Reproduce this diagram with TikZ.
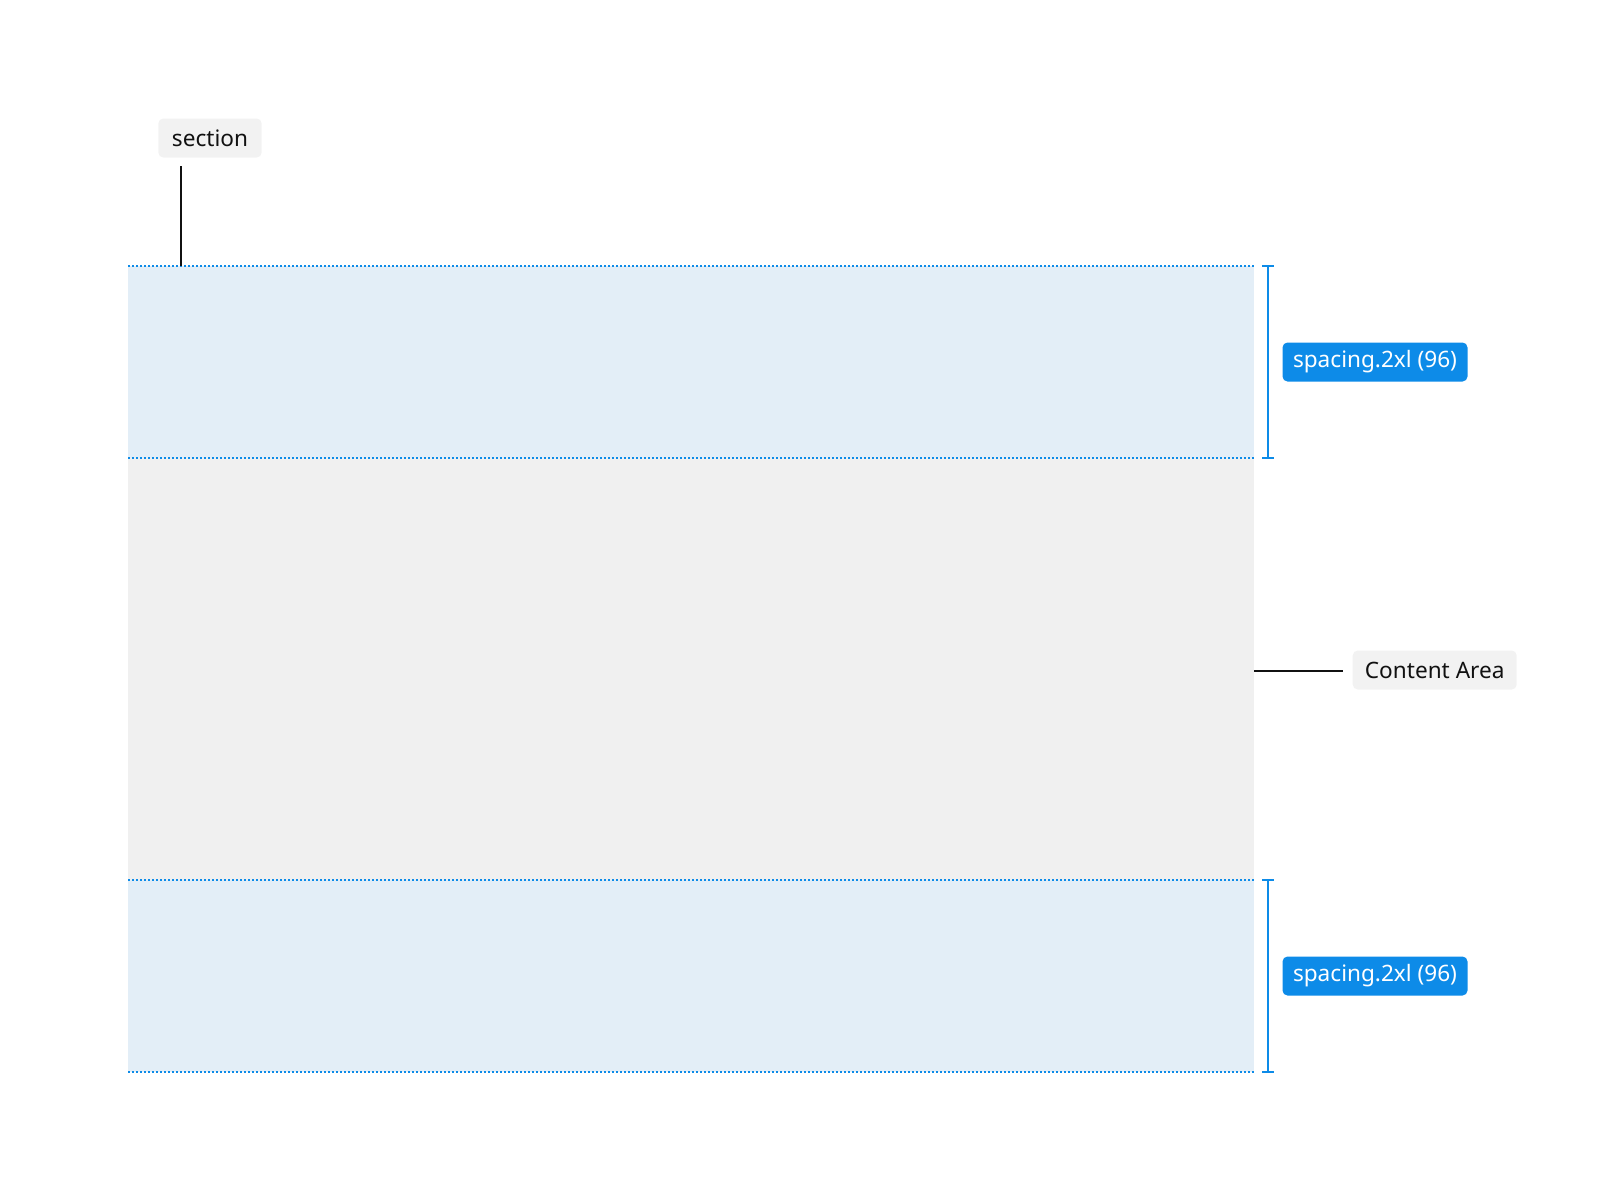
\documentclass[tikz,border=0pt]{standalone}
\usepackage{fontspec}
\setmainfont{Noto Sans}
\definecolor{bandblue}{HTML}{E3EEF7}
\definecolor{contentgrey}{HTML}{F0F0F0}
\definecolor{lineblue}{HTML}{0D8BE8}
\definecolor{labelgrey}{HTML}{F2F2F2}
\definecolor{inkdark}{HTML}{111111}
\begin{document}
\begin{tikzpicture}[x=0.5pt,y=-0.5pt,
  dotline/.style={draw=lineblue,line width=0.55pt,dash pattern=on 1pt off 1pt},
  greylabel/.style={fill=labelgrey,rounded corners=2.5pt,text=inkdark,inner sep=0pt,
    font=\fontsize{11.3pt}{13pt}\selectfont,minimum height=19.5pt},
  bluelabel/.style={fill=lineblue,rounded corners=2.5pt,text=white,inner sep=0pt,
    font=\fontsize{11.3pt}{13pt}\selectfont,minimum height=19.5pt,minimum width=92.5pt},
  leader/.style={draw=inkdark,line width=0.9pt},
  bracket/.style={draw=lineblue,line width=1pt}]
\useasboundingbox (0,0) rectangle (1600,1200);
% bands
\fill[bandblue] (128,266) rectangle (1254,458);
\fill[contentgrey] (128,458) rectangle (1254,880);
\fill[bandblue] (128,880) rectangle (1254,1072);
\foreach \yy in {266,458,880,1072} \draw[dotline] (128,\yy) -- (1254,\yy);
% labels
\node[greylabel,minimum width=51.7pt] (sec) at (210,138) {section};
\node[greylabel,minimum width=82pt] (ca) at (1434.7,670) {Content Area};
\node[bluelabel] (sp1) at (1375,362) {spacing.2xl (96)};
\node[bluelabel] (sp2) at (1375,976) {spacing.2xl (96)};
% leaders
\coordinate (secTop) at (180.7,266);
\coordinate (caEdge) at (1254,671);
\draw[leader,shorten >=4.2pt] (secTop) -- (secTop |- sec.south);
\draw[leader,shorten >=4.6pt] (caEdge) -- (caEdge -| ca.west);
% brackets
\coordinate (b1t) at (1268,266); \coordinate (b1b) at (1268,458);
\coordinate (b2t) at (1268,880); \coordinate (b2b) at (1268,1072);
\draw[bracket] (b1t) -- (b1b);
\draw[bracket] ([xshift=-2.8pt]b1t) -- ([xshift=2.8pt]b1t);
\draw[bracket] ([xshift=-2.8pt]b1b) -- ([xshift=2.8pt]b1b);
\draw[bracket] (b2t) -- (b2b);
\draw[bracket] ([xshift=-2.8pt]b2t) -- ([xshift=2.8pt]b2t);
\draw[bracket] ([xshift=-2.8pt]b2b) -- ([xshift=2.8pt]b2b);
\end{tikzpicture}
\end{document}
